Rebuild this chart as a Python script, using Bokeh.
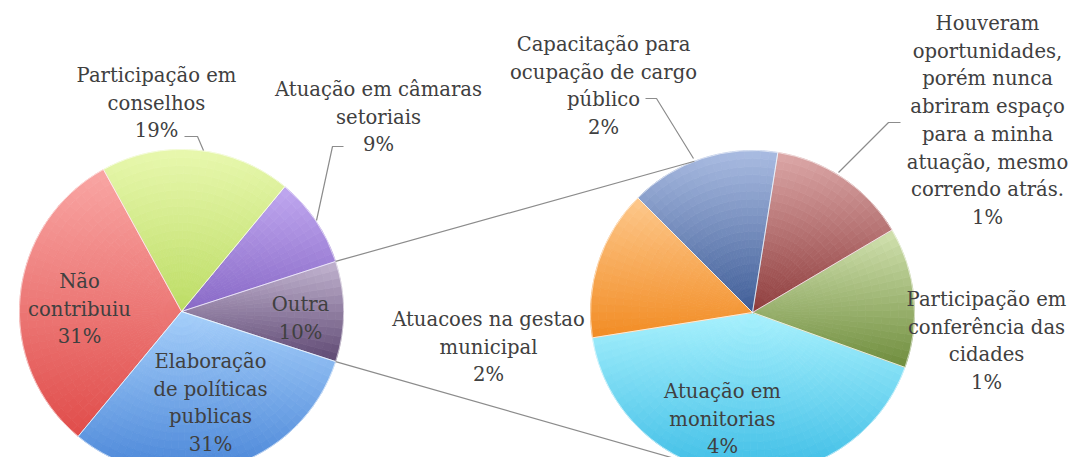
import math
from bokeh.plotting import figure
from bokeh.models import Range1d
from bokeh.embed import file_html
from bokeh.resources import INLINE
from bokeh.core.properties import value

# ---------------- data ----------------
main_categories = ["Outra", "Atuação em câmaras\nsetoriais", "Participação em\nconselhos",
                   "Não\ncontribuiu", "Elaboração\nde políticas\npublicas"]
main_values = [10, 9, 19, 31, 31]

sub_categories = ["Atuação em\nmonitorias", "Participação em\nconferência das\ncidades",
                  "Houveram\noportunidades,\nporém nunca\nabriram espaço\npara a minha\natuação, mesmo\ncorrendo atrás.",
                  "Capacitação para\nocupação de cargo\npúblico", "Atuacoes na gestao\nmunicipal"]
sub_values = [4.2, 1.4, 1.4, 1.5, 1.5]

# ---------------- style / layout ----------------
# gradient per slice: (top colour, bottom colour)
main_top = ["#C2B4D0", "#C0A8F0", "#E8F8AE", "#F9A6A4", "#A6CFFA"]
main_bot = ["#5E4872", "#8868C6", "#BCDC64", "#E04C4A", "#4A86D8"]
sub_top = ["#A8F1FD", "#D2E2B0", "#DCA8A8", "#AABCE2", "#FDC88C"]
sub_bot = ["#3DBDE6", "#6E8C3C", "#8E3C3C", "#3E5C96", "#F28C24"]

H = 473  # reference canvas height (data y = H - pixel y)
W_FIG, H_FIG = 1070, 457
R = 162
main_c = (181, H - 311)
sub_c = (752, H - 312)
main_start = -18.0
sub_start = -171.0
FONT = "DejaVu Serif"
FSIZE = "19.6px"
LINE_H = 27.7
TXT = "#404040"
GREY = "#8C8C8C"

# label anchors: (center x, first baseline y) in reference pixels
main_label_pos = [(300, 304), (378, 89), (156, 75), (79, 281), (210, 361)]
sub_label_pos = [(722, 391), (986, 299), (987, 23), (603, 44), (488, 319)]

p = figure(width=W_FIG, height=H_FIG, x_range=Range1d(0, W_FIG), y_range=Range1d(H - H_FIG, H),
           output_backend="svg", toolbar_location=None, min_border=0)
p.axis.visible = False
p.grid.visible = False
p.outline_line_color = None
p.background_fill_color = "white"


def hex2rgb(h):
    h = h.lstrip("#")
    return tuple(int(h[i:i + 2], 16) for i in (0, 2, 4))


def mix(c0, c1, t):
    a, b = hex2rgb(c0), hex2rgb(c1)
    t = min(1.0, max(0.0, t))
    return "#%02x%02x%02x" % tuple(int(round(a[k] + (b[k] - a[k]) * t)) for k in range(3))


def shaded_pie(values, total, start, center, tops, bots, n_r=20, step=3.0):
    cells = dict(ir=[], orr=[], sa=[], ea=[], col=[])
    angs = []
    a = start
    for v, ct, cb in zip(values, tops, bots):
        b = a + v / total * 360.0
        angs.append((a, b))
        ys = [0.0] + [math.sin(math.radians(a + (b - a) * k / 90)) for k in range(91)]
        ymin, ymax = min(ys), max(ys)
        m = max(1, int(math.ceil((b - a) / step)))
        for j in range(m):
            s0 = a + (b - a) * j / m
            s1 = a + (b - a) * (j + 1) / m
            mid = math.radians((s0 + s1) / 2)
            for i in range(n_r):
                r0, r1 = R * i / n_r, R * (i + 1) / n_r
                yy = (r0 + r1) / 2 / R * math.sin(mid)
                t = (yy - ymin) / (ymax - ymin)
                cells["ir"].append(r0)
                cells["orr"].append(r1)
                cells["sa"].append(math.radians(s0))
                cells["ea"].append(math.radians(s1))
                cells["col"].append(mix(cb, ct, t))
        a = b
    n = len(cells["col"])
    p.annular_wedge(x=[center[0]] * n, y=[center[1]] * n, inner_radius=cells["ir"],
                    outer_radius=cells["orr"], start_angle=cells["sa"], end_angle=cells["ea"],
                    fill_color=cells["col"], line_color=cells["col"], line_width=0.8)
    # slice outlines
    p.wedge(x=[center[0]] * len(values), y=[center[1]] * len(values), radius=R,
            start_angle=[math.radians(s) for s, e in angs],
            end_angle=[math.radians(e) for s, e in angs],
            fill_color=None, line_color="white", line_width=1, line_alpha=0.55)
    return angs


main_angs = shaded_pie(main_values, sum(main_values), main_start, main_c, main_top, main_bot)
sub_angs = shaded_pie(sub_values, sum(sub_values), sub_start, sub_c, sub_top, sub_bot)

# connector lines between the pies (edges of "Outra")
o_s, o_e = main_angs[0]
def on_circle(c, ang):
    return (c[0] + R * math.cos(math.radians(ang)), c[1] + R * math.sin(math.radians(ang)))
u1 = on_circle(main_c, o_e); u2 = on_circle(sub_c, 111)
l1 = on_circle(main_c, o_s); l2 = on_circle(sub_c, -109)
p.multi_line(xs=[[u1[0], u2[0]], [l1[0], l2[0]]], ys=[[u1[1], u2[1]], [l1[1], l2[1]]],
             line_color=GREY, line_width=1.2)

# leader lines (reference pixel coords)
leaders = [
    [(184, 136), (197, 136), (203, 150)],
    [(343, 146), (332, 146), (316, 220)],
    [(645, 98), (656, 98), (693, 158)],
    [(900, 122), (888, 122), (838, 172)],
]
p.multi_line(xs=[[q[0] for q in L] for L in leaders], ys=[[H - q[1] for q in L] for L in leaders],
             line_color=GREY, line_width=1.2)

# labels
total_main = sum(main_values)
def labels(cats, vals, pos):
    xs, ys, ts = [], [], []
    for c, v, (x, y0) in zip(cats, vals, pos):
        lines = c.split("\n") + [f"{v / total_main * 100:.0f}%"]
        for i, t in enumerate(lines):
            xs.append(x)
            ys.append(H - (y0 + i * LINE_H))
            ts.append(t)
    p.text(x=xs, y=ys, text=ts, text_align="center", text_baseline="alphabetic",
           text_font=value(FONT), text_font_size=FSIZE, text_color=TXT)

labels(main_categories, main_values, main_label_pos)
labels(sub_categories, sub_values, sub_label_pos)

open("out.html", "w").write(file_html(p, INLINE))
